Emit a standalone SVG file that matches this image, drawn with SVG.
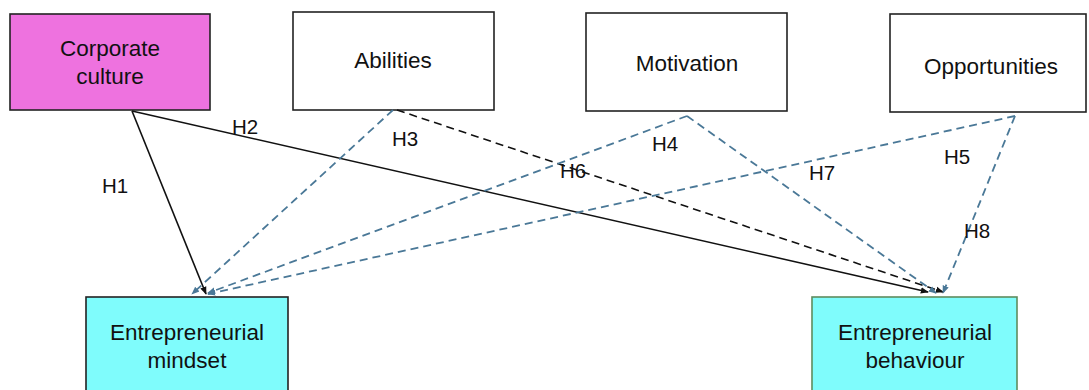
<svg xmlns="http://www.w3.org/2000/svg" width="1089" height="390" viewBox="0 0 1089 390">
<defs>
<marker id="ab" viewBox="0 0 10 10" refX="9" refY="5" markerWidth="8" markerHeight="8" orient="auto" markerUnits="userSpaceOnUse"><path d="M0,1 L10,5 L0,9 z" fill="#111"/></marker>
<marker id="au" viewBox="0 0 10 10" refX="9" refY="5" markerWidth="8" markerHeight="8" orient="auto" markerUnits="userSpaceOnUse"><path d="M0,1 L10,5 L0,9 z" fill="#4a7897"/></marker>
</defs>
<style>
.box{stroke:#222;stroke-width:1.6}
.t{font-family:"Liberation Sans",Arial,sans-serif;font-size:22.5px;fill:#111;text-anchor:middle}
.lbl{font-family:"Liberation Sans",Arial,sans-serif;font-size:20.5px;fill:#111;text-anchor:middle}
.solid{stroke:#111;stroke-width:1.6;fill:none;marker-end:url(#ab)}
.dk{stroke:#111;stroke-width:1.6;fill:none;stroke-dasharray:8 5;marker-end:url(#ab)}
.bl{stroke:#4a7897;stroke-width:1.8;fill:none;stroke-dasharray:8 5;marker-end:url(#au)}
</style>
<rect width="1089" height="390" fill="#fff"/>
<g id="corporate-culture"><rect class="box" x="10" y="14" width="200" height="96" fill="#ee72df"/><text class="t" x="110" y="56">Corporate</text><text class="t" x="110" y="84">culture</text></g>
<g id="abilities"><rect class="box" x="293" y="12" width="201" height="98" fill="#fff"/><text class="t" x="393" y="68">Abilities</text></g>
<g id="motivation"><rect class="box" x="586" y="13" width="201" height="98" fill="#fff"/><text class="t" x="687" y="71">Motivation</text></g>
<g id="opportunities"><rect class="box" x="890" y="14" width="196" height="98" fill="#fff"/><text class="t" x="991" y="74">Opportunities</text></g>
<g id="entrepreneurial-mindset"><rect class="box" x="86" y="297" width="202" height="100" fill="#7ffcfc"/><text class="t" x="187" y="340">Entrepreneurial</text><text class="t" x="187" y="368">mindset</text></g>
<g id="entrepreneurial-behaviour"><rect x="812" y="297" width="205" height="100" fill="#7ffcfc" stroke="#5e8c5e" stroke-width="1.6"/><text class="t" x="915" y="340">Entrepreneurial</text><text class="t" x="915" y="368">behaviour</text></g>
<g id="connectors">
<line class="solid" x1="132" y1="111" x2="206" y2="294"/>
<line class="solid" x1="132" y1="111" x2="928" y2="292"/>
<line class="dk" x1="397" y1="110" x2="943" y2="292"/>
<line class="bl" x1="393" y1="110" x2="192" y2="294"/>
<line class="bl" x1="687" y1="116" x2="208" y2="293"/>
<line class="bl" x1="1015" y1="116" x2="208" y2="294"/>
<line class="bl" x1="687" y1="116" x2="936" y2="293"/>
<line class="bl" x1="1015" y1="116" x2="943" y2="293"/>
</g>
<g id="labels">
<text class="lbl" x="115" y="193">H1</text>
<text class="lbl" x="245" y="134">H2</text>
<text class="lbl" x="405" y="146">H3</text>
<text class="lbl" x="665" y="151">H4</text>
<text class="lbl" x="957" y="164">H5</text>
<text class="lbl" x="573" y="178">H6</text>
<text class="lbl" x="822" y="180">H7</text>
<text class="lbl" x="977" y="238">H8</text>
</g>
</svg>
